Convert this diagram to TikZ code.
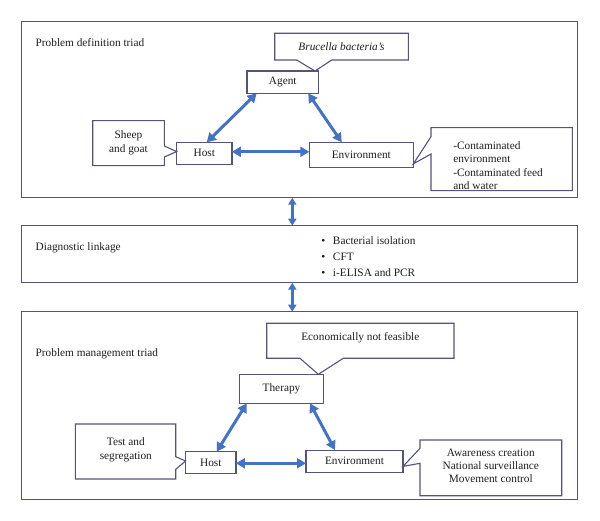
\documentclass[tikz,border=0pt]{standalone}
\usepackage{fontspec}
\setmainfont{Liberation Serif}
\usetikzlibrary{arrows.meta,calc}
\definecolor{boxc}{RGB}{84,84,122}
\definecolor{arrc}{RGB}{68,114,196}
\definecolor{txtc}{RGB}{30,30,30}
\begin{document}
\begin{tikzpicture}[x=1pt,y=-1pt,
  font=\fontsize{11.3}{13.3}\selectfont,
  every node/.style={text=txtc},
  frame/.style={draw=boxc,line width=1.1pt,inner sep=0pt,outer sep=0pt},
  tbox/.style={draw=boxc,line width=1.1pt,inner sep=0pt,outer sep=0pt,fill=white},
  txt/.style={inner sep=0pt,outer sep=0pt},
  callline/.style={draw=boxc,line width=1.1pt,fill=white,line join=miter},
  tri/.style={draw=arrc,line width=3pt,
    {Triangle[length=9pt,width=10pt,fill=arrc]}-{Triangle[length=9pt,width=10pt,fill=arrc]}},
  vtri/.style={draw=arrc,line width=2.6pt,
    {Triangle[length=7pt,width=8pt,fill=arrc]}-{Triangle[length=7pt,width=8pt,fill=arrc]}}
]
\fill[white] (0,0) rectangle (600,521);
\useasboundingbox (0,0) rectangle (600,521);

% frames
\node[frame,minimum width=556.3pt,minimum height=176.2pt] (topf) at (299.2,109.6) {};
\node[frame,minimum width=556.3pt,minimum height=57pt] (diagf) at (299.2,254.2) {};
\node[frame,minimum width=556.3pt,minimum height=187.6pt] (botf) at (299.2,405.5) {};

% ---------- top triad ----------
\node[txt,anchor=west] (tit1) at (35.7,43) {Problem definition triad};
\node[tbox,minimum width=71.7pt,minimum height=22.3pt] (agent) at (282.8,82.2) {Agent};
\node[tbox,minimum width=55.3pt,minimum height=22pt] (host) at (204.3,153.3) {Host};
\node[tbox,minimum width=104pt,minimum height=25pt] (env) at (361.3,154.8) {Environment};

\draw[callline] (274.7,33.3) -- (408.3,33.3) -- (408.3,60) -- (331.7,60)
  -- ([xshift=32.2]agent.north) -- (296.7,60) -- (274.7,60) -- cycle;
\node[txt] (bru) at (341.5,46.7) {\textit{Brucella bacteria’s}};

\draw[callline] (92.7,120.7) -- (164.3,120.7) -- (164.3,146)
  -- ([yshift=1.7]host.west) -- (164.3,157) -- (164.3,165.7) -- (92.7,165.7) -- cycle;
\node[txt,align=center] (sheep) at (128.5,142.7) {Sheep\\and goat};

\draw[callline] (431,127.7) -- (572.3,127.7) -- (572.3,190.7) -- (431,190.7)
  -- (431,154) -- ([yshift=-9.1]env.east) -- (431,136.7) -- cycle;
\node[txt,anchor=west,align=left] (envt) at (453.3,165.7)
  {-Contaminated\\environment\\-Contaminated feed\\and water};

\draw[tri] ([xshift=9.7]agent.south west) -- ([xshift=2.4]host.north);
\draw[tri] ([xshift=-10.4]agent.south east) -- ([xshift=32.4]env.north west);
\draw[tri] ([yshift=1.5]host.east) -- ([yshift=1.5]host.east -| env.west);

% ---------- diagnostic linkage ----------
\node[txt,anchor=west] (tit2) at (35.7,248.3) {Diagnostic linkage};
\node[txt,anchor=west,align=left,font=\fontsize{11.3}{16}\selectfont] (diagl) at (321.3,256.3)
  {\makebox[11.7pt][l]{\textbullet}Bacterial isolation\\
   \makebox[11.7pt][l]{\textbullet}CFT\\
   \makebox[11.7pt][l]{\textbullet}i-ELISA and PCR};

\draw[vtri] ([xshift=-6.9]topf.south) -- ([xshift=-6.9]diagf.north);
\draw[vtri] ([xshift=-6.9]diagf.south) -- ([xshift=-6.9]botf.north);

% ---------- bottom triad ----------
\node[txt,anchor=west] (tit3) at (35.7,353.3) {Problem management triad};
\node[tbox,minimum width=84.4pt,minimum height=29pt] (ther) at (281.5,388.8) {Therapy};
\node[tbox,minimum width=50.3pt,minimum height=21.6pt] (hostb) at (210.8,462.5) {Host};
\node[tbox,minimum width=97pt,minimum height=22.3pt] (envb) at (354.5,461.2) {Environment};

\draw[callline] (266.7,323.3) -- (454,323.3) -- (454,358.3) -- (343.3,358.3)
  -- ([xshift=36.8]ther.north) -- (300,358.3) -- (266.7,358.3) -- cycle;
\node[txt] (econ) at (360.3,338) {Economically not feasible};

\draw[callline] (75.3,424) -- (175.7,424) -- (175.7,456.7)
  -- ([yshift=1.5]hostb.west) -- (175.7,469.3) -- (175.7,479) -- (75.3,479) -- cycle;
\node[txt,align=center] (test) at (125.8,449.7) {Test and\\segregation};

\draw[callline] (420,440) -- (561.7,440) -- (561.7,495.7) -- (420,495.7)
  -- (420,463.3) -- ([yshift=-5.2]envb.east) -- (420,448.3) -- cycle;
\node[txt,align=center] (envbt) at (490.8,466)
  {Awareness creation\\National surveillance\\Movement control};

\draw[tri] ([xshift=7.4]ther.south west) -- ([xshift=5.9]hostb.north);
\draw[tri] ([xshift=-13.7]ther.south east) -- ([xshift=29]envb.north west);
\draw[tri] ([yshift=-0.8]hostb.east) -- ([yshift=-0.8]hostb.east -| envb.west);
\end{tikzpicture}
\end{document}
